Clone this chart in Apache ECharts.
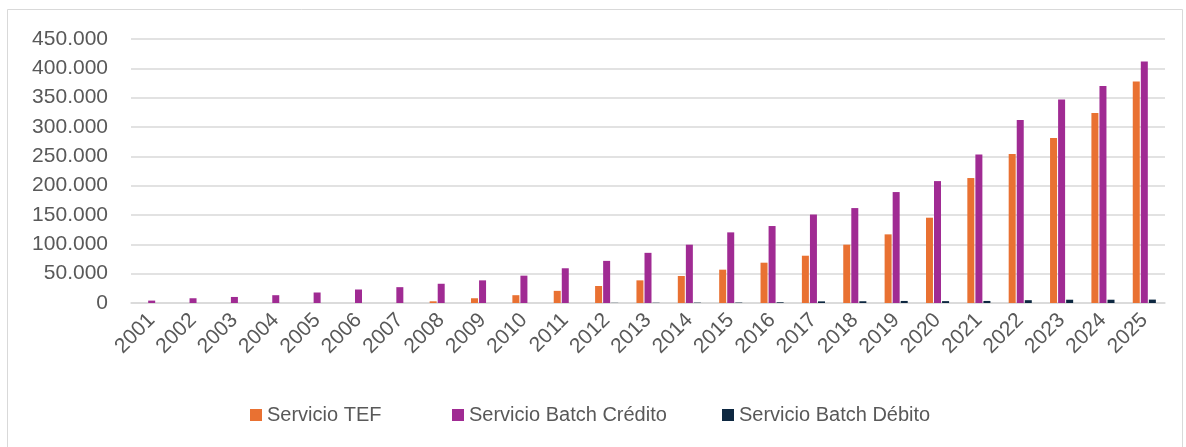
<!DOCTYPE html>
<html>
<head>
<meta charset="utf-8">
<script src="https://cdn.jsdelivr.net/npm/echarts@6/dist/echarts.min.js"></script>
<style>
  html, body { margin: 0; padding: 0; background: #ffffff; }
  #chart { width: 1186px; height: 447px; }
</style>
</head>
<body>
<div id="chart"></div>
<script>
const years = ['2001','2002','2003','2004','2005','2006','2007','2008','2009','2010','2011','2012','2013','2014','2015','2016','2017','2018','2019','2020','2021','2022','2023','2024','2025'];
const seriesNames = ['Servicio TEF', 'Servicio Batch Crédito', 'Servicio Batch Débito'];
const tef = [0, 0, 0, 0, 0, 0, 0, 2900, 8100, 13300, 20700, 29000, 38600, 46000, 56800, 68700, 80600, 99400, 117000, 145400, 213000, 253800, 281100, 323700, 377700];
const batchCredito = [4100, 8100, 10300, 13300, 17900, 23000, 27000, 32800, 38600, 46600, 59200, 71800, 85500, 99400, 120400, 131200, 150800, 161800, 189100, 207800, 253300, 311800, 347000, 369700, 411800];
const batchDebito = [0, 0, 0, 0, 0, 0, 0, 0, 0, 0, 0, 300, 400, 600, 700, 1200, 2800, 3000, 3500, 3200, 3500, 4800, 5600, 5600, 5800];
const yTicks = { min: 0, max: 450000, interval: 50000 };

const colors = ['#E97132', '#A02B93', '#0E2841'];
const font = 'Liberation Sans, Arial, sans-serif';
const textColor = '#595959';

function fmt(v) {
  return String(v).replace(/\B(?=(\d{3})+(?!\d))/g, '.');
}

const chart = echarts.init(document.getElementById('chart'), null, { renderer: 'canvas' });

const legendLefts = [250, 452, 722];
const legends = seriesNames.map((n, i) => ({
  data: [n],
  left: legendLefts[i],
  top: 405,
  padding: 0,
  itemWidth: 12,
  itemHeight: 12,
  itemGap: 4,
  icon: 'rect',
  selectedMode: false,
  textStyle: { fontFamily: font, fontSize: 20, color: textColor, padding: [0, 0, 0, 0] }
}));

const data = [tef, batchCredito, batchDebito];

chart.setOption({
  animation: false,
  backgroundColor: '#ffffff',
  color: colors,
  graphic: [{
    type: 'rect',
    shape: { x: 7.5, y: 9.5, width: 1175, height: 446 },
    style: { fill: 'none', stroke: '#d9d9d9', lineWidth: 1 },
    silent: true
  }],
  legend: legends,
  grid: { left: 131, right: 21, top: 39, bottom: 144, containLabel: false },
  xAxis: {
    type: 'category',
    data: years,
    axisLine: { show: true, lineStyle: { color: '#d9d9d9', width: 1.5 } },
    axisTick: { show: false },
    axisLabel: { rotate: 45, margin: 14, fontFamily: font, fontSize: 21, color: textColor, interval: 0 }
  },
  yAxis: {
    type: 'value',
    min: yTicks.min,
    max: yTicks.max,
    interval: yTicks.interval,
    axisLine: { show: false },
    axisTick: { show: false },
    splitLine: { lineStyle: { color: '#d9d9d9', width: 1.5 } },
    axisLabel: { margin: 23, fontFamily: font, fontSize: 21, color: textColor, formatter: fmt }
  },
  series: seriesNames.map((n, i) => ({
    name: n,
    type: 'bar',
    data: data[i],
    barWidth: 7,
    barGap: '15%',
    itemStyle: { color: colors[i] }
  }))
});
</script>
</body>
</html>
